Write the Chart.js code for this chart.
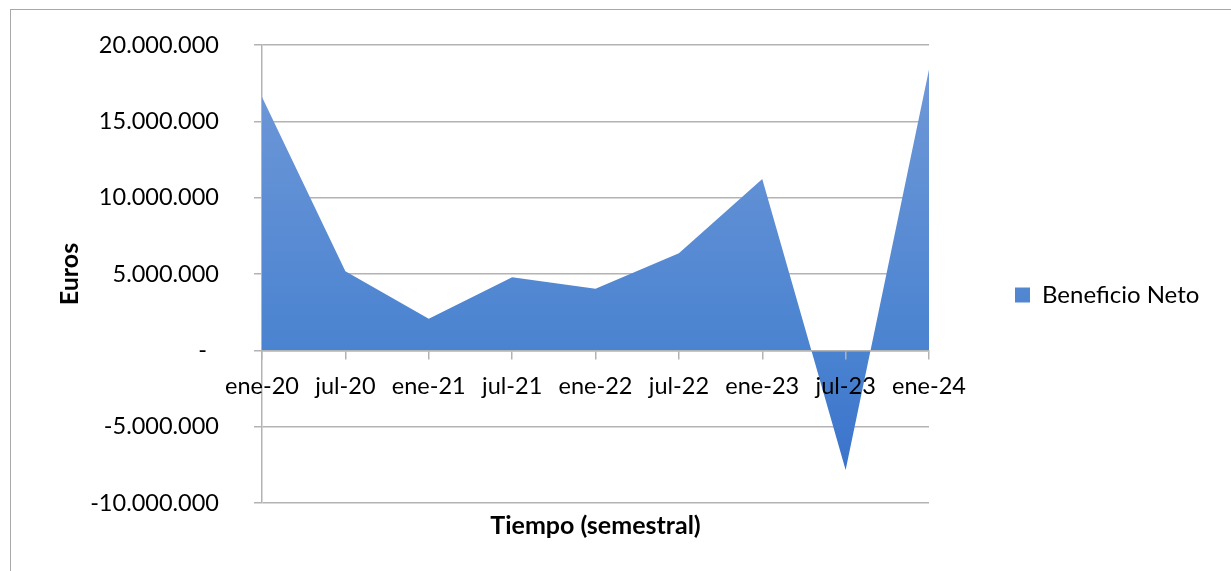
<!DOCTYPE html>
<html>
<head>
<meta charset="utf-8">
<script src="https://cdn.jsdelivr.net/npm/chart.js@4"></script>
<style>
  html, body { margin: 0; padding: 0; background: #fff; overflow: hidden; }
  #wrap { position: relative; width: 1231px; height: 571px; }
  #frame { position: absolute; left: 10px; top: 9px; width: 1400px; height: 800px;
           border-left: 1.5px solid #a8a8a8; border-top: 1.5px solid #a8a8a8; }
  canvas { position: absolute; left: 0; top: 0; }
</style>
</head>
<body>
<div id="wrap">
  <div id="frame"></div>
  <canvas id="chart" width="1231" height="571"></canvas>
</div>
<script>
// Semesters and net profit (euros)
const periodos = ['ene-20', 'jul-20', 'ene-21', 'jul-21', 'ene-22', 'jul-22', 'ene-23', 'jul-23', 'ene-24'];
const beneficioNeto = [16600000, 5180000, 2070000, 4790000, 4030000, 6360000, 11220000, -7840000, 18400000];
const ejeY = { min: -10000000, max: 20000000, paso: 5000000 };

const FONT = 'Lato, "Open Sans", sans-serif';
const GRID = '#b3b3b3';

function miles(n) {
  if (n === 0) return '-  ';
  const s = Math.abs(n).toString().replace(/\B(?=(\d{3})+(?!\d))/g, '.');
  return (n < 0 ? '-' : '') + s;
}

// Vertical gradient spanning the data range (lighter at the top)
function relleno(ctx) {
  const chart = ctx.chart;
  const area = chart.chartArea;
  if (!area) return '#4a84d0';
  const y = chart.scales.y;
  const top = y.getPixelForValue(Math.max(...beneficioNeto));
  const bottom = y.getPixelForValue(Math.min(...beneficioNeto));
  const g = chart.ctx.createLinearGradient(0, top, 0, bottom);
  g.addColorStop(0, '#6f98d8');
  g.addColorStop(0.7, '#4a83d0');
  g.addColorStop(1, '#3a73cb');
  return g;
}

// Fixed legend column width on the right
const anchoLeyenda = {
  id: 'anchoLeyenda',
  afterInit(chart) {
    const lg = chart.legend;
    if (!lg) return;
    const fit = lg.fit.bind(lg);
    lg.fit = function () { fit(); this.width = 302; };
  }
};

new Chart(document.getElementById('chart'), {
  type: 'line',
  data: {
    labels: periodos,
    datasets: [{
      label: 'Beneficio Neto',
      data: beneficioNeto,
      fill: 'origin',
      backgroundColor: relleno,
      borderWidth: 0,
      borderColor: 'rgba(0,0,0,0)',
      pointRadius: 0,
      pointHoverRadius: 0,
      tension: 0
    }]
  },
  options: {
    responsive: false,
    animation: false,
    events: [],
    layout: { padding: { top: 45, left: 0, right: 0, bottom: 26 } },
    plugins: {
      tooltip: { enabled: false },
      legend: {
        position: 'right',
        align: 'center',
        labels: {
          boxWidth: 15,
          boxHeight: 15,
          padding: 86,
          color: '#000',
          font: { family: FONT, size: 24 }
        }
      }
    },
    scales: {
      x: {
        type: 'category',
        position: { y: 0 },
        offset: false,
        grid: { drawOnChartArea: false, drawTicks: true, tickLength: 8, color: GRID, lineWidth: 1.5, z: 1 },
        border: { display: true, color: GRID, width: 1.5, z: 1 },
        ticks: { color: '#000', font: { family: FONT, size: 23.5 }, padding: 14, maxRotation: 0, autoSkip: false, z: 1 }
      },
      xt: {
        type: 'category',
        position: 'bottom',
        labels: periodos,
        offset: false,
        grid: { display: false },
        border: { display: false },
        ticks: { display: false },
        title: { display: true, text: 'Tiempo (semestral)', color: '#000',
                 font: { family: FONT, size: 25, weight: 'bold' }, padding: { top: 0, bottom: 4 } }
      },
      y: {
        min: ejeY.min,
        max: ejeY.max,
        afterFit(scale) {
          scale.width = 262;
          scale.paddingTop = 14;
          scale.paddingBottom = 14;
        },
        ticks: { stepSize: ejeY.paso, color: '#000', font: { family: FONT, size: 23.5 }, padding: 35,
                 callback: v => miles(v) },
        grid: { color: GRID, lineWidth: 1.5, tickLength: 8 },
        border: { display: true, color: GRID, width: 1.5 },
        title: { display: true, text: 'Euros', color: '#000',
                 font: { family: FONT, size: 25, weight: 'bold' }, padding: { top: 55, bottom: 0 } }
      }
    }
  },
  plugins: [anchoLeyenda]
});
</script>
</body>
</html>
